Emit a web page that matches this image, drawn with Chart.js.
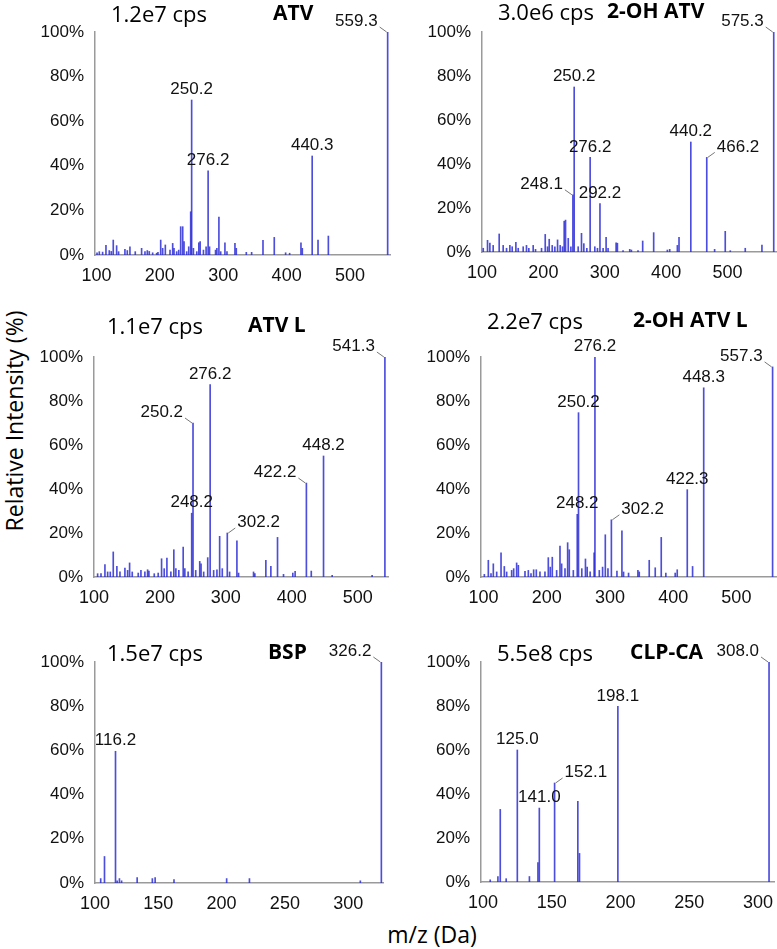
<!DOCTYPE html>
<html lang="en">
<head>
<meta charset="UTF-8">
<title>Product ion spectra</title>
<script src="https://cdn.jsdelivr.net/npm/chart.js@4"></script>
<style>
  body { margin: 0; background: #fff; }
  #page { position: relative; width: 777px; height: 949px; overflow: hidden; }
  #page canvas { position: absolute; }
  .cps, .name { position: absolute; font-family: "Open Sans", sans-serif; font-size: 22px; line-height: 1; white-space: nowrap; color: #000; }
  .name { font-weight: bold; font-size: 21px; }
  .axis-title { position: absolute; font-family: "Open Sans", sans-serif; font-size: 23px; line-height: 1; white-space: nowrap; color: #000; }
</style>
</head>
<body>
<div id="page">
  <div class="axis-title" id="ytitle">Relative Intensity (%)</div>
  <div class="axis-title" id="xtitle">m/z (Da)</div>
</div>

<script>
// peaks as [m/z, relative intensity %]
const atvPeaks = [
  [101,1],[104.6,1.5],[109.8,1.3],[115.1,4.3],[120.3,2],[123.5,1.6],[126.6,6.7],[131.9,4.2],[135,1.5],
  [145,2.5],[148.7,2],[152.9,3.7],[161.3,1.5],[171.3,3],[176.6,1.5],[180.3,2],[183.4,1.6],[188.7,1],
  [195,0.8],[197.1,1.2],[201.4,6.7],[204.5,3],[208.7,4.5],[216.1,2.2],[220.3,5.2],[222.4,3],[226.6,1.5],
  [229.8,2.2],[232.9,12.7],[236.1,12.7],[238.2,6],[242.4,1.5],[245.6,3.7],[248.7,19.4],[250.2,69.5],
  [253,3],[258.3,1.5],[261.5,5.5],[263.6,6],[268.8,2.2],[273,3.7],[276.2,37.7],[278.4,3.7],[287.9,2.2],
  [290,3],[293.2,17],[296,1.5],[302.7,5.5],[305.9,1.5],[318.5,5.2],[320.6,3],[336.4,1.2],[344.8,1.2],
  [362.7,6.6],[380.5,7.9],[398.4,1],[404.7,0.8],[422.6,5.5],[424.7,3],[440.3,44.4],[449.5,6.7],
  [465.8,8.5],[559.3,100]
];
const ohAtvPeaks = [
  [102,1.7],[109,5.3],[112.8,4],[118.2,3],[128,8.2],[134.5,3],[140,1.7],[145.4,3],[149.2,2.4],[155.2,4.4],
  [159,1.7],[167.1,2.4],[172.5,3],[176.3,1.7],[183.4,3],[187.2,1.2],[197,1.7],[203,8],[206.8,2.4],
  [209.5,5.8],[214.4,3],[218.7,2.4],[223.1,5.5],[227.4,3],[231.2,2.4],[233.9,14],[236.1,14.5],[240.5,6.2],
  [244.8,2.4],[248.1,26],[250.2,75],[256.7,2.4],[262.1,8.5],[265.9,3.8],[270.8,1.7],[276.2,43],[283.8,2.4],
  [288.1,1.7],[292.2,22],[297.3,1.7],[302.2,6.7],[305.4,1.7],[318.5,4.2],[320.6,4],[329.8,0.6],[340.7,1.2],
  [343.4,0.9],[354.2,0.6],[361.8,5],[379.7,8.8],[402,0.9],[405.8,1.2],[418.3,3],[421,6.7],[440.2,50],
  [466.2,43],[479,1.2],[496.3,9.4],[504.5,0.6],[528.9,1.7],[556.1,3.2],[575.3,100]
];
const atvLPeaks = [
  [105.5,1.5],[110.6,1.5],[116.6,5.6],[120.7,2.3],[124.7,2.3],[129.2,11.4],[134.7,4.8],[139.4,2.3],
  [146.9,4],[151,3],[154,6.4],[158,2.3],[167.1,1.8],[171.2,3],[177.2,2.3],[181.3,3.3],[183.3,2.7],
  [191.4,1.5],[197.4,1.8],[202.5,8.3],[206.5,3.8],[210.6,8.6],[216.6,2.3],[221.1,12.4],[224.2,3.8],
  [228.7,3],[235.3,13.6],[237.8,3.8],[242.8,2.3],[248.2,29],[250.2,70],[254.3,3],[260.4,7.1],[262.4,6],
  [266.4,2.3],[272.5,8.8],[276.2,87.5],[281.5,3],[286.5,3.3],[290.6,18.5],[294.6,3.8],[302.2,20],
  [305.7,2.3],[316.8,16.4],[319.3,1.8],[342,2.3],[344,1.5],[360.7,7.6],[368.3,4.8],[378.4,18],
  [387.5,1.2],[401.6,1.8],[405.1,2.6],[422.2,42.7],[429.6,2.7],[448.2,55],[461.3,0.8],[521.9,0.8],
  [541.3,100]
];
const ohAtvLPeaks = [
  [101.2,1.2],[107.5,7.6],[111.7,1.5],[115.4,6],[120.7,2.3],[127.6,11],[132.8,4.8],[136.5,2.3],
  [144.4,3],[147.6,3.8],[152.3,6.4],[155,5.3],[165.5,2.6],[170.8,3],[175,1.5],[179.2,3.3],[183.4,3.3],
  [189.2,2.3],[197.1,2.3],[202.4,8.8],[205.5,4.5],[208.7,9],[215.6,3],[220.9,14],[223.5,6],[228.8,3.8],
  [233,15.6],[235.6,12.4],[242,3],[248.2,28.5],[250.2,74.7],[255.4,3.8],[261.2,8.2],[263.9,4.5],
  [268.6,2.3],[274.9,11],[276.2,100],[283.1,3],[288.3,4.5],[292.6,19.2],[296.8,3.8],[302.2,26],[311,2.7],
  [318.9,21],[321.5,2.3],[329.4,1.8],[344.2,3],[346.3,2.3],[362.1,7.6],[371.6,4.2],[381.1,18],
  [388.4,1.8],[403.2,1.8],[406.4,3.3],[422.3,39.7],[430.7,4.8],[448.3,86],[557.3,95.5]
];
const bspPeaks = [
  [104.5,2],[107.5,12],[116.2,59.6],[117.5,1],[119.3,2],[121,1],[133.3,2.5],[145.3,2],[147.5,2.5],
  [162.4,1.5],[204,2],[222,2],[309.6,1],[326.2,100]
];
const clpPeaks = [
  [105.3,1],[110.9,2.5],[112.6,33],[116.9,1.5],[125.0,60],[133.8,2.5],[140,8.8],[141.0,33.6],
  [152.1,45],[169,36.7],[170.2,13],[198.1,79.8],[308.0,100]
];

// annotated peaks
const atvLabels = ['559.3', '250.2', '276.2', '440.3'];
const ohAtvLabels = ['575.3', '250.2', '276.2', '440.2', '466.2', '248.1', '292.2'];
const atvLLabels = ['541.3', '276.2', '250.2', '448.2', '422.2', '248.2', '302.2'];
const ohAtvLLabels = ['557.3', '276.2', '448.3', '250.2', '422.3', '248.2', '302.2'];
const bspLabels = ['326.2', '116.2'];
const clpLabels = ['308.0', '198.1', '125.0', '152.1', '141.0'];

const xTicksWide = [100, 200, 300, 400, 500];
const xTicksNarrow = [100, 150, 200, 250, 300];
const yTicks = [0, 20, 40, 60, 80, 100];

const panels = [
  { cps: '1.2e7 cps', name: 'ATV', peaks: atvPeaks, labels: atvLabels, left: ['559.3'], right: [],
    xMin: 97.8, xMax: 563, ticks: xTicksWide, area: [95, 390, 32, 255], cpsAt: [111, 13], nameAt: [273, 13] },
  { cps: '3.0e6 cps', name: '2-OH ATV', peaks: ohAtvPeaks, labels: ohAtvLabels, left: ['575.3', '248.1'], right: ['466.2'],
    xMin: 100, xMax: 579, ticks: xTicksWide, area: [482, 776, 32, 252], cpsAt: [498, 11], nameAt: [607, 11] },
  { cps: '1.1e7 cps', name: 'ATV L', peaks: atvLPeaks, labels: atvLLabels, left: ['541.3', '250.2', '422.2'], right: ['302.2'],
    xMin: 100, xMax: 546, ticks: xTicksWide, area: [94, 388, 357, 577], cpsAt: [107, 325], nameAt: [248, 325] },
  { cps: '2.2e7 cps', name: '2-OH ATV L', peaks: ohAtvLPeaks, labels: ohAtvLLabels, left: ['557.3'], right: ['302.2'],
    xMin: 95.9, xMax: 562.7, ticks: xTicksWide, area: [481, 776, 357, 577], cpsAt: [487, 320], nameAt: [633, 320] },
  { cps: '1.5e7 cps', name: 'BSP', peaks: bspPeaks, labels: bspLabels, left: ['326.2'], right: [],
    xMin: 100, xMax: 327.5, ticks: xTicksNarrow, area: [95, 383, 662, 883], cpsAt: [107, 652], nameAt: [268, 652] },
  { cps: '5.5e8 cps', name: 'CLP-CA', peaks: clpPeaks, labels: clpLabels, left: ['308.0'], right: ['152.1'],
    xMin: 98.6, xMax: 311.6, ticks: xTicksNarrow, area: [481, 774, 662, 882], cpsAt: [497, 652], nameAt: [630, 652] }
];

const page = document.getElementById('page');
const tickFont = '"Liberation Sans", Arial, sans-serif';
const Y_W = 96, X_H = 30, PAD_T = 30, PAD_R = 4;

function labelPlugin(panel) {
  return {
    id: 'peakLabels',
    afterDatasetsDraw(chart) {
      const { ctx, scales: { x, y } } = chart;
      ctx.save();
      ctx.font = '17px ' + tickFont;
      ctx.fillStyle = '#111';
      ctx.strokeStyle = '#777';
      ctx.lineWidth = 1;
      ctx.textBaseline = 'middle';
      panel.labels.forEach(text => {
        const mz = parseFloat(text);
        const peak = panel.peaks.find(p => p[0] === mz);
        const px = x.getPixelForValue(mz);
        const top = y.getPixelForValue(peak[1]);
        const cy = top - 10.5;
        if (panel.left.includes(text)) {
          ctx.textAlign = 'right';
          ctx.fillText(text, px - 10, cy);
          ctx.beginPath(); ctx.moveTo(px - 8, top - 5); ctx.lineTo(px - 1, top); ctx.stroke();
        } else if (panel.right.includes(text)) {
          ctx.textAlign = 'left';
          ctx.fillText(text, px + 10, cy);
          ctx.beginPath(); ctx.moveTo(px + 1, top); ctx.lineTo(px + 8, top - 5); ctx.stroke();
        } else {
          ctx.textAlign = 'center';
          ctx.fillText(text, px, cy);
        }
      });
      ctx.restore();
    }
  };
}

panels.forEach(panel => {
  const [l, r, t, b] = panel.area;
  const canvas = document.createElement('canvas');
  const w = (r - l) + Y_W + PAD_R;
  const h = (b - t) + PAD_T + X_H;
  canvas.width = w;
  canvas.height = h;
  canvas.style.left = (l - Y_W) + 'px';
  canvas.style.top = (t - PAD_T) + 'px';
  canvas.style.width = w + 'px';
  canvas.style.height = h + 'px';
  page.appendChild(canvas);

  const cps = document.createElement('div');
  cps.className = 'cps';
  cps.textContent = panel.cps;
  cps.style.left = panel.cpsAt[0] + 'px';
  cps.style.top = (panel.cpsAt[1] - 11) + 'px';
  page.appendChild(cps);

  const name = document.createElement('div');
  name.className = 'name';
  name.textContent = panel.name;
  name.style.left = panel.nameAt[0] + 'px';
  name.style.top = (panel.nameAt[1] - 11) + 'px';
  page.appendChild(name);

  new Chart(canvas.getContext('2d'), {
    type: 'bar',
    data: {
      datasets: [{
        data: panel.peaks.map(p => ({ x: p[0], y: p[1] })),
        backgroundColor: 'rgba(45, 45, 215, 0.85)',
        barThickness: 1
      }]
    },
    options: {
      responsive: false,
      animation: false,
      layout: { padding: { top: PAD_T, right: PAD_R, left: 0, bottom: 0 } },
      plugins: { legend: { display: false }, tooltip: { enabled: false } },
      scales: {
        x: {
          type: 'linear',
          offset: false,
          min: panel.xMin,
          max: panel.xMax,
          grid: { display: false },
          border: { display: true, color: '#9a9a9a', width: 1.5 },
          afterBuildTicks: s => { s.ticks = panel.ticks.map(v => ({ value: v })); },
          afterFit: s => { s.height = X_H; },
          ticks: { font: { family: tickFont, size: 18 }, color: '#111', padding: 2, maxRotation: 0 }
        },
        y: {
          min: 0,
          max: 100,
          grid: { display: false },
          border: { display: true, color: '#9a9a9a', width: 1.5 },
          afterBuildTicks: s => { s.ticks = yTicks.map(v => ({ value: v })); },
          afterFit: s => { s.width = Y_W; },
          ticks: { font: { family: tickFont, size: 17 }, color: '#111', padding: 3, callback: v => v + '%' }
        }
      }
    },
    plugins: [labelPlugin(panel)]
  });
});

// shared axis titles
const ytitle = document.getElementById('ytitle');
ytitle.style.left = '14px';
ytitle.style.top = '421px';
ytitle.style.transform = 'translate(-50%, -50%) rotate(-90deg)';
const xtitle = document.getElementById('xtitle');
xtitle.style.left = '432px';
xtitle.style.top = '923px';
xtitle.style.transform = 'translateX(-50%)';
</script>
</body>
</html>
